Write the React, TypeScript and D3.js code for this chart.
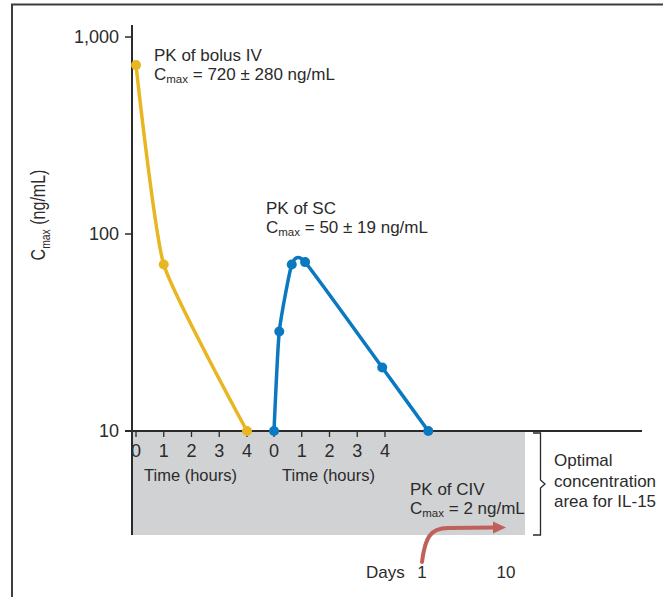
import React from "react";
import * as d3 from "d3";

// y axis (log, ng/mL)
const yTicks = [10, 100, 1000];
const yTickLabels = ["10", "100", "1,000"];
const hourTicks = [0, 1, 2, 3, 4];

// PK of bolus IV
const ivHours = [0, 1, 4];
const ivConc = [720, 70, 10];

// PK of SC
const scHours = [0, 0.19, 0.64, 1.12, 3.9, 5.56];
const scConc = [10, 32, 70, 72, 21, 10];

// PK of CIV (days axis)
const civDays = [1, 10];

const W = 663;
const H = 597;
const FONT = "'Liberation Sans', Arial, Helvetica, sans-serif";
const INK = "#2b2b2b";
const YELLOW = "#e8b621";
const BLUE = "#0a79c1";
const RED = "#c0605a";
const GRAY = "#d1d2d4";

const axisX = 132;
const bandBottom = 535;
const bandRight = 525;
const axisRight = 642;
const daysBaseline = 578;

export default function App() {
  const y = d3.scaleLog().domain([10, 1000]).range([431, 37]);
  const xIV = d3.scaleLinear().domain([0, 4]).range([136, 247]);
  const xSC = d3.scaleLinear().domain([0, 4]).range([274, 385]);
  const xDays = d3.scaleLinear().domain([1, 10]).range([422, 506]);

  const base = y(10);

  const ivPts: [number, number][] = ivHours.map((h, i) => [xIV(h), y(ivConc[i])]);
  const scPts: [number, number][] = scHours.map((h, i) => [xSC(h), y(scConc[i])]);

  const line = d3.line().curve(d3.curveCardinal.tension(0.5));

  // CIV arrow: rises from the day-1 mark to a plateau running to day 10
  const ax0 = xDays(civDays[0]);
  const ax1 = xDays(civDays[1]);
  const arrowLow = daysBaseline - 16;
  const arrowHigh = bandBottom - 7;
  const arrowPath = `M${ax0},${arrowLow} C${ax0 + 3},${arrowHigh + 10} ${ax0 + 8},${arrowHigh} ${ax0 + 26},${arrowHigh} L${ax1 - 13},${arrowHigh - 0.5}`;

  const txt = { fontFamily: FONT, fill: INK };

  return (
    <svg
      width={W}
      height={H}
      style={{ position: "absolute", left: 0, top: 0, background: "#fff" }}
    >
      {/* frame */}
      <line x1={11} x2={W} y1={4.5} y2={4.5} stroke="#3d3d3d" strokeWidth={2} />
      <line x1={12} x2={12} y1={4} y2={H} stroke="#3d3d3d" strokeWidth={2} />

      {/* optimal concentration band */}
      <rect x={axisX} y={base} width={bandRight - axisX} height={bandBottom - base} fill={GRAY} />

      {/* axes */}
      <line x1={axisX} x2={axisX} y1={25} y2={bandBottom} stroke={INK} strokeWidth={2} />
      <line x1={125} x2={axisRight} y1={base} y2={base} stroke={INK} strokeWidth={2} />
      {yTicks.map((t, i) => (
        <g key={t}>
          <line x1={125} x2={axisX} y1={y(t)} y2={y(t)} stroke={INK} strokeWidth={1.5} />
          <text x={119} y={y(t) + 6} textAnchor="end" fontSize={18} {...txt}>
            {yTickLabels[i]}
          </text>
        </g>
      ))}

      {[xIV, xSC].map((sx, k) => (
        <g key={k}>
          {hourTicks.map((h) => (
            <g key={h}>
              <line x1={sx(h)} x2={sx(h)} y1={base} y2={base + 6} stroke={INK} strokeWidth={1.3} />
              <text x={sx(h)} y={457} textAnchor="middle" fontSize={18} {...txt}>
                {h}
              </text>
            </g>
          ))}
          <text x={sx(0) + 8} y={481} fontSize={16.5} {...txt}>
            Time (hours)
          </text>
        </g>
      ))}

      {/* y label */}
      <text
        transform="translate(45,215) rotate(-90) scale(0.8,1)"
        textAnchor="middle"
        fontSize={20}
        {...txt}
      >
        C<tspan fontSize={13} dy={5}>max</tspan>
        <tspan dy={-5}> (ng/mL)</tspan>
      </text>

      {/* series */}
      <path d={line(ivPts) ?? ""} fill="none" stroke={YELLOW} strokeWidth={3.5} />
      {ivPts.map(([px, py], i) => (
        <circle key={i} cx={px} cy={py} r={5} fill={YELLOW} />
      ))}
      <path d={line(scPts) ?? ""} fill="none" stroke={BLUE} strokeWidth={3.5} />
      {scPts.map(([px, py], i) => (
        <circle key={i} cx={px} cy={py} r={5} fill={BLUE} />
      ))}

      {/* annotations */}
      <text x={154} y={61} fontSize={17} {...txt}>PK of bolus IV</text>
      <text x={154} y={79.5} fontSize={17} {...txt}>
        C<tspan fontSize={11.5} dy={3}>max</tspan>
        <tspan dy={-3}> = 720 ± 280 ng/mL</tspan>
      </text>
      <text x={266} y={214} fontSize={17} {...txt}>PK of SC</text>
      <text x={266} y={233} fontSize={17} {...txt}>
        C<tspan fontSize={11.5} dy={3}>max</tspan>
        <tspan dy={-3}> = 50 ± 19 ng/mL</tspan>
      </text>
      <text x={410} y={495} fontSize={17} {...txt}>PK of CIV</text>
      <text x={410} y={513.5} fontSize={17} {...txt}>
        C<tspan fontSize={11.5} dy={3}>max</tspan>
        <tspan dy={-3}> = 2 ng/mL</tspan>
      </text>

      {/* CIV arrow */}
      <path d={arrowPath} fill="none" stroke={RED} strokeWidth={4} strokeLinecap="round" />
      <path
        d={`M${ax1},${arrowHigh - 0.5} L${ax1 - 13},${arrowHigh - 6.5} L${ax1 - 13},${arrowHigh + 5.5} Z`}
        fill={RED}
      />
      <text x={366} y={daysBaseline} fontSize={17} {...txt}>Days</text>
      {civDays.map((d) => (
        <text key={d} x={xDays(d)} y={daysBaseline} textAnchor="middle" fontSize={17} {...txt}>
          {d}
        </text>
      ))}

      {/* bracket */}
      <path
        d={`M533,${base + 2} H540.5 V${480} L545,484 L540.5,488 V${bandBottom} H533`}
        fill="none"
        stroke={INK}
        strokeWidth={1.3}
      />
      <text x={554} y={466} fontSize={17} {...txt}>Optimal</text>
      <text x={554} y={487} fontSize={17} {...txt}>concentration</text>
      <text x={554} y={507} fontSize={17} {...txt}>area for IL-15</text>
    </svg>
  );
}
